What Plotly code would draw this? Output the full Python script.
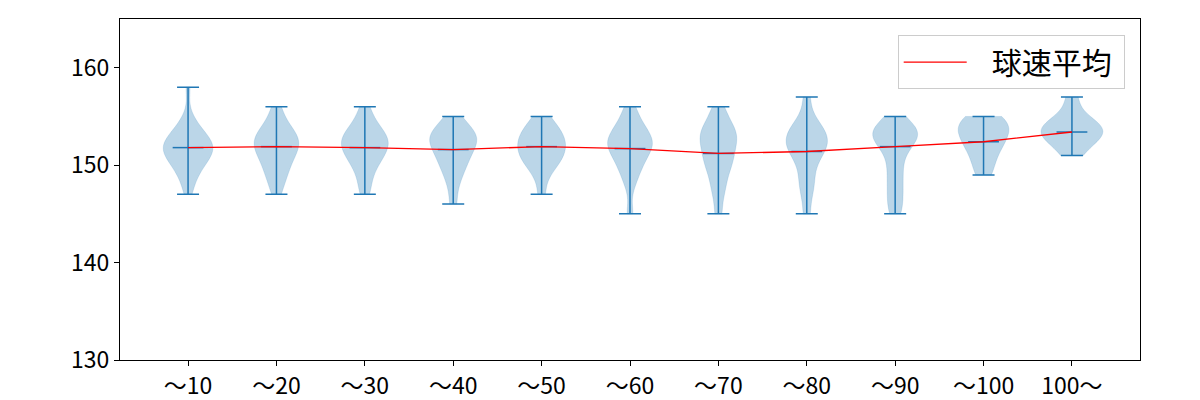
import plotly.graph_objects as go

# 投球数区分
labels = ["〜10", "〜20", "〜30", "〜40", "〜50", "〜60", "〜70", "〜80", "〜90", "〜100", "100〜"]

# 各区分の球速サンプル (km/h, 図から読み取り)
speeds = [
    [147, 148, 149, 149, 150, 150, 150, 151, 151, 151, 151, 151, 152, 152, 152, 152, 152, 152, 153, 153, 153, 153, 154, 154, 155, 158],
    [147, 148, 149, 149, 150, 150, 151, 151, 151, 152, 152, 152, 152, 153, 153, 153, 153, 154, 154, 155, 156],
    [147, 148, 149, 150, 150, 151, 151, 151, 152, 152, 152, 152, 153, 153, 153, 153, 154, 154, 155, 156],
    [146, 148, 149, 150, 150, 151, 151, 152, 152, 152, 153, 153, 153, 153, 154, 154, 155],
    [147, 149, 150, 150, 151, 151, 151, 152, 152, 152, 153, 153, 153, 154, 154, 155],
    [145, 148, 149, 150, 150, 151, 151, 152, 152, 152, 152, 153, 153, 153, 154, 154, 155, 156],
    [145, 147, 148, 149, 150, 150, 151, 151, 152, 152, 153, 153, 153, 154, 154, 155, 156],
    [145, 147, 148, 149, 150, 151, 151, 152, 152, 152, 153, 153, 153, 154, 154, 155, 157],
    [145, 146, 147, 148, 149, 150, 151, 152, 152, 153, 153, 153, 153, 154, 154, 154, 155],
    [149, 150, 151, 152, 152, 153, 153, 154, 154, 154, 155, 155],
    [151, 152, 153, 153, 153, 154, 154, 154, 155, 157],
]

speed_min = [147, 147, 147, 146, 147, 145, 145, 145, 145, 149, 151]
speed_max = [158, 156, 156, 155, 155, 156, 156, 157, 155, 155, 157]
speed_mean = [151.8, 151.9, 151.8, 151.6, 151.9, 151.7, 151.2, 151.4, 151.9, 152.4, 153.4]

blue = "#1f77b4"
font_family = "Noto Sans CJK JP"

xs, ys = [], []
for lab, vals in zip(labels, speeds):
    xs += [lab] * len(vals)
    ys += vals

fig = go.Figure()

fig.add_trace(go.Violin(
    x=xs, y=ys,
    spanmode="hard", scalemode="width", width=0.7, bandwidth=1.1,
    points=False, box_visible=False, meanline_visible=False,
    fillcolor="rgba(31,119,180,0.3)",
    line=dict(color="rgba(31,119,180,0.15)", width=1),
    showlegend=False, hoverinfo="skip",
))

# 最大・最小・平均のバー
fig.add_trace(go.Scatter(
    x=labels, y=speed_mean, mode="markers",
    marker=dict(symbol="line-ew", size=22, line=dict(width=1.5, color=blue)),
    error_y=dict(
        type="data", symmetric=False,
        array=[mx - m for mx, m in zip(speed_max, speed_mean)],
        arrayminus=[m - mn for mn, m in zip(speed_min, speed_mean)],
        width=11, thickness=1.5, color=blue,
    ),
    showlegend=False, hoverinfo="skip",
))

fig.add_trace(go.Scatter(
    x=labels, y=speed_mean, mode="lines",
    line=dict(color="red", width=1.3),
    name="\u00a0\u00a0\u00a0球速平均\u00a0",
))

fig.update_layout(
    width=1200, height=400,
    margin=dict(l=120, r=60, t=19, b=40),
    plot_bgcolor="white", paper_bgcolor="white",
    font=dict(family=font_family, size=23, color="black"),
    legend=dict(
        x=0.985, y=0.953, xanchor="right", yanchor="top",
        bgcolor="white", bordercolor="#cccccc", borderwidth=1,
        font=dict(size=30), itemwidth=63,
    ),
)

fig.update_xaxes(
    type="category", range=[-0.77, 10.77], automargin=False,
    showline=True, mirror=True, linecolor="black", linewidth=1,
    ticks="outside", ticklen=5, tickcolor="black", showgrid=False,
)
fig.update_yaxes(
    range=[130, 165], tickvals=[130, 140, 150, 160], automargin=False,
    showline=True, mirror=True, linecolor="black", linewidth=1,
    ticks="outside", ticklen=5, tickcolor="black", showgrid=False, zeroline=False,
)

fig.write_html("out.html", config={"displayModeBar": False},
               post_script="document.body.style.margin='0';")
